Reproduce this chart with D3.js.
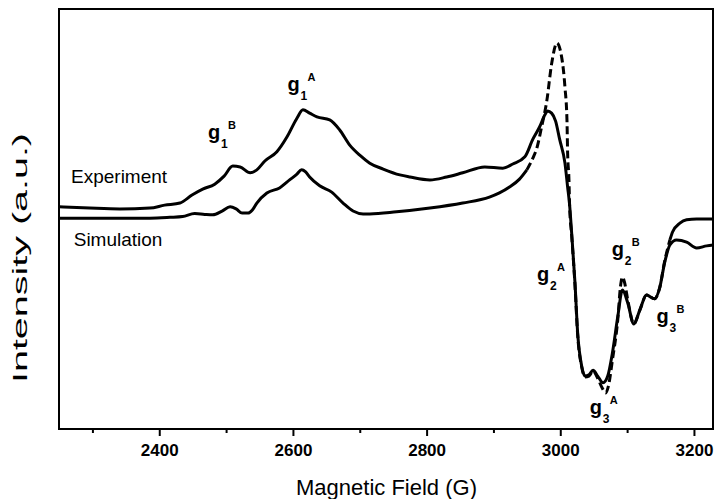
<!DOCTYPE html>
<html><head><meta charset="utf-8">
<script src="https://cdn.jsdelivr.net/npm/d3@7"></script>
<style>body{margin:0;background:#fff}svg{display:block}text{font-family:"Liberation Sans",Arial,Helvetica,sans-serif;fill:#000}</style>
</head><body><svg id="c" width="715" height="499"></svg>
<script>
// ---- data (Magnetic field in G, intensity in arbitrary units) ----
const experimentField = [2250,2296,2341,2386,2408,2431,2449,2465,2483,2497,2510,2521,2536,2546,2558,2576,2591,2606,2615,2625,2636,2655,2670,2685,2700,2715,2735,2760,2775,2805,2830,2854,2887,2914,2929,2947,2959,2969,2977,2981,2987,2993,2999,3007,3011,3014,3017,3022,3026,3032,3037,3043,3049,3056,3064,3071,3078,3086,3093,3101,3110,3119,3129,3141,3149,3156,3164,3174,3189,3204,3219,3229];
const experimentIntensity = [2.9,2.6,2.4,2.6,3.3,3.8,5.7,7.1,8.3,10.2,12.6,12.4,11.0,11.7,13.8,16.0,19.5,24.0,26.0,25.2,24.3,23.6,21.2,17.6,15.2,13.3,11.9,10.5,10.0,9.3,10.0,11.0,12.4,12.1,13.1,14.8,19.0,21.9,24.8,25.7,25.2,23.3,19.0,13.3,7.6,3.3,-3.3,-15.2,-27.1,-35.0,-37.4,-37.1,-36.0,-37.4,-39.0,-37.4,-31.9,-23.3,-16.9,-20.0,-25.0,-21.7,-18.1,-19.0,-16.2,-10.5,-6.2,-5.0,-5.5,-6.9,-6.4,-6.2];
const simulationField = [2250,2311,2386,2416,2435,2453,2468,2480,2494,2506,2515,2524,2533,2539,2546,2561,2580,2595,2606,2613,2619,2625,2640,2658,2675,2690,2705,2715,2755,2805,2854,2894,2909,2924,2939,2950,2959,2965,2972,2980,2987,2995,3002,3007,3010,3011,3013,3014,3017,3022,3026,3032,3037,3043,3049,3056,3062,3068,3072,3078,3086,3090,3093,3096,3101,3110,3119,3129,3141,3149,3156,3164,3168,3179,3189,3204,3229];
const simulationIntensity = [0.2,0.2,0.2,0.4,0.6,1.3,1.1,1.0,1.9,2.9,2.4,1.4,1.4,2.1,3.8,6.2,7.4,9.3,10.7,11.7,11.2,10.0,7.9,6.4,3.8,1.9,1.2,1.2,1.7,2.6,3.8,5.2,6.2,7.6,9.5,11.7,14.5,16.9,21.9,28.3,36.9,41.9,38.6,31.4,23.6,15.7,9.3,2.9,-3.8,-15.7,-27.6,-35.2,-37.6,-37.4,-36.2,-37.9,-40.0,-41.4,-39.8,-33.6,-24.0,-16.2,-13.8,-15.0,-19.3,-25.0,-21.7,-18.1,-19.0,-16.2,-10.2,-5.0,-3.1,-1.0,-0.2,0,0];
const simulationDashedRange = [2958, 3160];
const fieldDomain = [2250, 3230];
const intensityDomain = [-50, 50];
const majorTicks = [2400, 2600, 2800, 3000, 3200];
const minorTicks = [2300, 2500, 2700, 2900, 3100];
const seriesLabels = ["Experiment", "Simulation"];
const seriesLabelField = [2268, 2272];
const seriesLabelIntensity = [8.6, -6.4];
const annBase = ["g","g","g","g","g","g"];
const annSub = ["1","1","2","2","3","3"];
const annSup = ["B","A","A","B","A","B"];
const annField = [2473, 2592, 2965, 3077, 3044, 3144];
const annIntensity = [19.0, 30.5, -14.8, -8.8, -46.4, -24.8];
const xTitle = "Magnetic Field (G)";
const yTitle = "Intensity (a.u.)";

// ---- layout ----
const W = 715, H = 499;
const m = {left: 59, top: 9, right: 1, bottom: 70};
const svg = d3.select("#c");
const x = d3.scaleLinear().domain(fieldDomain).range([m.left, W - m.right]);
const y = d3.scaleLinear().domain(intensityDomain).range([H - m.bottom, m.top]);

svg.append("defs").append("clipPath").attr("id","clip")
  .append("rect").attr("x", m.left).attr("y", m.top)
  .attr("width", W - m.left - m.right).attr("height", H - m.top - m.bottom);

const line = d3.line().x(d => x(d[0])).y(d => y(d[1])).curve(d3.curveMonotoneX);
const exp = experimentField.map((f,i) => [f, experimentIntensity[i]]);
const sim = simulationField.map((f,i) => [f, simulationIntensity[i]]);

const plot = svg.append("g").attr("clip-path","url(#clip)");
const simSolidA = sim.filter(d => d[0] <= simulationDashedRange[0]);
const simDash = sim.filter(d => d[0] >= simulationDashedRange[0] - 10 && d[0] <= simulationDashedRange[1] + 5);
const simSolidB = sim.filter(d => d[0] >= simulationDashedRange[1]);

plot.append("path").attr("d", line(simSolidA)).attr("fill","none").attr("stroke","#000").attr("stroke-width",3);
plot.append("path").attr("d", line(simSolidB)).attr("fill","none").attr("stroke","#000").attr("stroke-width",3);
plot.append("path").attr("d", line(simDash)).attr("fill","none").attr("stroke","#000").attr("stroke-width",3)
  .attr("stroke-dasharray","8,4");
plot.append("path").attr("d", line(exp)).attr("fill","none").attr("stroke","#000").attr("stroke-width",3)
  .attr("stroke-linejoin","round");

// frame
svg.append("rect").attr("x", m.left).attr("y", m.top)
  .attr("width", W - m.left - m.right - 1).attr("height", H - m.top - m.bottom)
  .attr("fill","none").attr("stroke","#000").attr("stroke-width",2);

// x axis
const axisY = H - m.bottom;
const xAxis = d3.axisBottom(x).tickValues(majorTicks).tickSize(7).tickFormat(d3.format("d"));
const gx = svg.append("g").attr("transform", `translate(0,${axisY})`).call(xAxis);
gx.select(".domain").remove();
gx.selectAll(".tick line").attr("stroke","#000").attr("stroke-width",2);
gx.selectAll(".tick text").attr("font-size",17).attr("font-weight","bold")
  .attr("font-family",'"Liberation Sans",Arial,sans-serif').attr("dy",null).attr("y",27);
const xMinor = d3.axisBottom(x).tickValues(minorTicks).tickSize(4).tickFormat("");
const gxm = svg.append("g").attr("transform", `translate(0,${axisY})`).call(xMinor);
gxm.select(".domain").remove();
gxm.selectAll(".tick line").attr("stroke","#000").attr("stroke-width",2);

// titles
svg.append("text").attr("x", (m.left + W - m.right)/2).attr("y", 495)
  .attr("text-anchor","middle").attr("font-size",22).text(xTitle);
svg.append("text").attr("transform","translate(27,258) rotate(-90)")
  .attr("text-anchor","middle").attr("font-size",20)
  .attr("textLength",250).attr("lengthAdjust","spacingAndGlyphs").text(yTitle);

// series labels
seriesLabels.forEach((s,i) => {
  svg.append("text").attr("x", x(seriesLabelField[i])).attr("y", y(seriesLabelIntensity[i]))
    .attr("font-size",19).text(s);
});

// g-factor annotations
annBase.forEach((b,i) => {
  const g = svg.append("g").attr("transform", `translate(${x(annField[i])},${y(annIntensity[i])})`);
  g.append("text").attr("font-size",20).attr("font-weight","bold").text(b);
  g.append("text").attr("x",13).attr("y",9).attr("font-size",12).attr("font-weight","bold").text(annSub[i]);
  g.append("text").attr("x",20).attr("y",-10).attr("font-size",11).attr("font-weight","bold").text(annSup[i]);
});
</script></body></html>
